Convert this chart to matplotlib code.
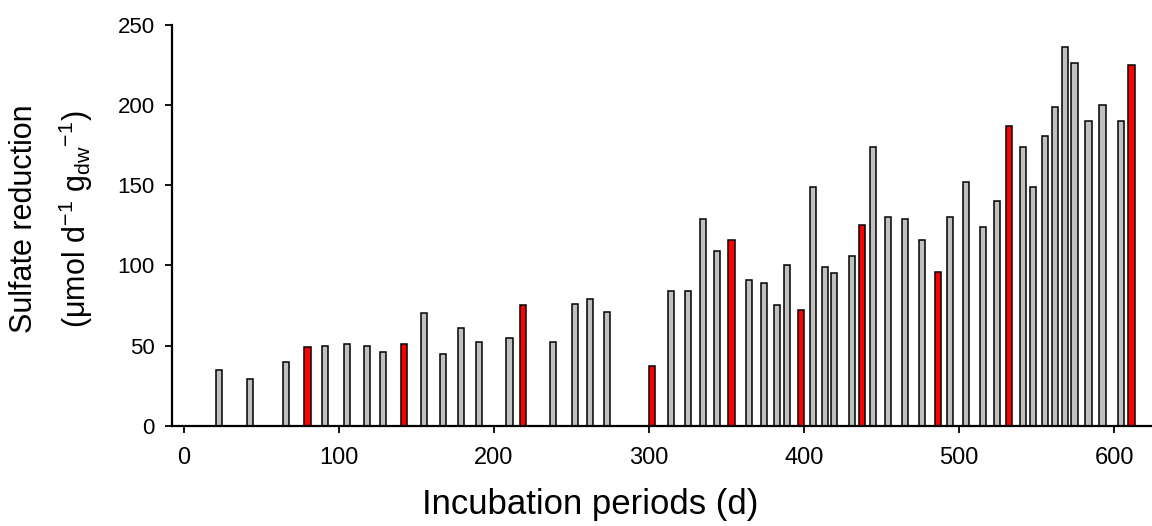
import numpy as np
import matplotlib
matplotlib.use("Agg")
import matplotlib.pyplot as plt

plt.rcParams["font.family"] = ["Liberation Sans", "DejaVu Sans"]
plt.rcParams["mathtext.fontset"] = "custom"
plt.rcParams["mathtext.rm"] = "Liberation Sans"
plt.rcParams["mathtext.it"] = "Liberation Sans"
plt.rcParams["mathtext.bf"] = "Liberation Sans:bold"

# incubation day, sulfate reduction rate, highlighted (red) or not
days = [22.5, 42.6, 65.7, 79.7, 91.0, 105.2, 118.0, 128.4, 141.8, 154.8,
        167.1, 178.7, 190.3, 209.9, 218.7, 238.1, 252.3, 261.9, 272.9, 301.9,
        314.2, 325.2, 334.8, 343.9, 353.1, 364.5, 374.2, 382.6, 389.0, 398.1,
        405.8, 413.5, 419.4, 431.0, 437.4, 444.5, 454.2, 465.2, 476.1, 486.5,
        494.2, 504.5, 515.5, 524.5, 532.3, 541.3, 547.7, 555.5, 561.9, 568.4,
        574.4, 583.4, 592.5, 604.5, 611.4]
rates = [35, 29, 40, 49, 50, 51, 50, 46, 51, 70,
         45, 61, 52, 55, 75, 52, 76, 79, 71, 37,
         84, 84, 129, 109, 116, 91, 89, 75, 100, 72,
         149, 99, 95, 106, 125, 174, 130, 129, 116, 96,
         130, 152, 124, 140, 187, 174, 149, 181, 199, 236,
         226, 190, 200, 190, 225]
red_days = [79.7, 141.8, 218.7, 301.9, 353.1, 398.1, 437.4, 486.5, 532.3, 611.4]

colors = ["#ff0000" if d in red_days else "#c0c0c0" for d in days]

fig = plt.figure(figsize=(11.52, 5.26), dpi=100)
ax = fig.add_axes([0.149, 0.1907, 0.851, 0.7618])

ax.bar(days, rates, width=4.3, color=colors, edgecolor="black", linewidth=1.1,
       zorder=2)

ax.set_xlim(-8, 624.5)
ax.set_ylim(0, 250)
ax.set_xticks([0, 100, 200, 300, 400, 500, 600])
ax.set_yticks([0, 50, 100, 150, 200, 250])

for s in ["top", "right"]:
    ax.spines[s].set_visible(False)
for s in ["left", "bottom"]:
    ax.spines[s].set_linewidth(1.6)

ax.tick_params(axis="y", direction="out", length=5, width=1.3, pad=7,
               labelsize=16)
ax.tick_params(axis="x", direction="out", length=5, width=1.3, pad=10,
               labelsize=17)

ax.set_xlabel("Incubation periods (d)", fontsize=25)
ax.xaxis.set_label_coords(0.4267, -0.155)

fig.text(0.021, 0.584, "Sulfate reduction", rotation=90, fontsize=22,
         ha="center", va="center")
fig.text(0.066, 0.584, r"($\mu$mol d$^{-1}$ g$_{dw}$$^{-1}$)", rotation=90,
         fontsize=22, ha="center", va="center")

fig.savefig("out.png", dpi=100)
